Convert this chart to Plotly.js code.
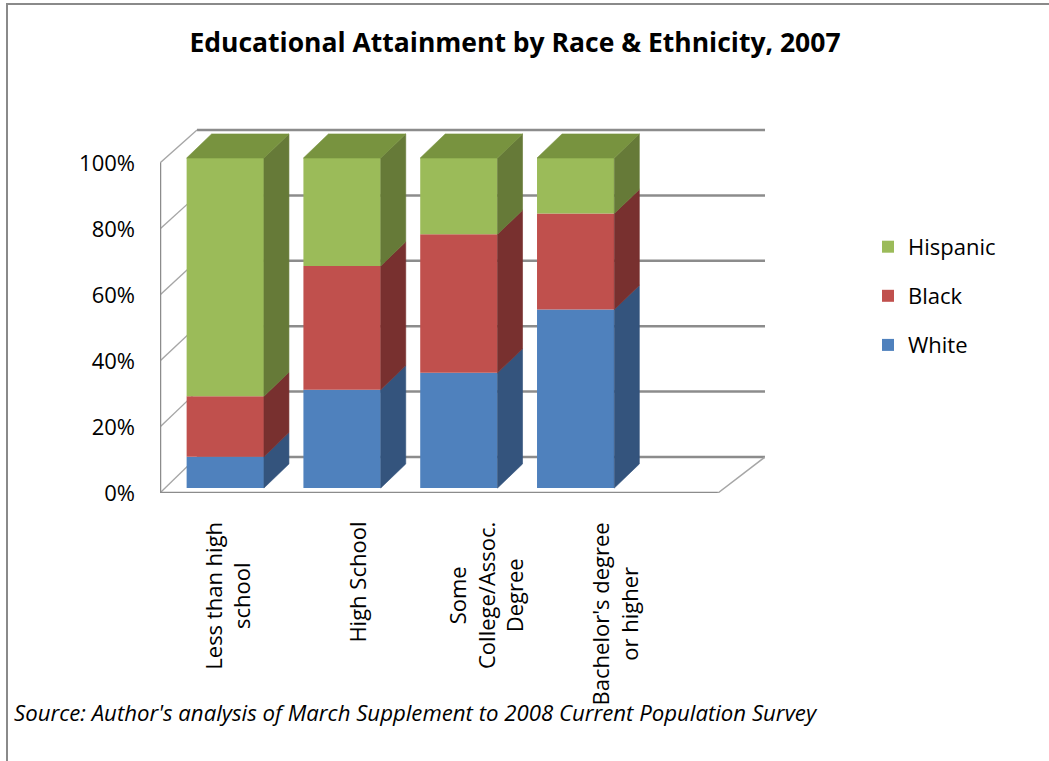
<!DOCTYPE html>
<html>
<head>
<meta charset="utf-8">
<script src="https://cdn.plot.ly/plotly-3.0.1.min.js"></script>
<style>
  html, body { margin: 0; padding: 0; background: #ffffff; }
  #wrap { position: relative; width: 1049px; height: 761px; overflow: hidden; }
  #chart { position: absolute; left: 0; top: 0; width: 1049px; height: 761px; }
  #frame { position: absolute; left: 6px; top: 3px; width: 1100px; height: 800px;
           border-left: 2px solid #8a8a8a; border-top: 2px solid #8a8a8a; pointer-events: none; }
</style>
</head>
<body>
<div id="wrap">
  <div id="chart"></div>
  <div id="frame"></div>
</div>
<script>
// ---- data ----
const categories = ["Less than high<br>school", "High School", "Some<br>College/Assoc.<br>Degree", "Bachelor's degree<br>or higher"];
const seriesNames = ["White", "Black", "Hispanic"];
const white    = [9.5, 29.8, 34.9, 54.1];
const black    = [18.3, 37.5, 42.0, 29.1];
const hispanic = [72.2, 32.7, 23.1, 16.8];
const yTickVals = [0, 20, 40, 60, 80, 100];
const yTickText = ["0%", "20%", "40%", "60%", "80%", "100%"];

// ---- styling / 3-D geometry (in axis units) ----
const frontColors = ["#4f81bd", "#c0504d", "#9bbb59"];
const sideColors  = ["#34547d", "#78302f", "#667a38"];
const topColor    = "#78933f";
const HW = 0.331;          // half width of bar front
const BASE = 1.5;          // bar front sits slightly behind floor front
const BDX = 0.214, BDY = 7.3;   // bar depth offset
const FRONT_LEFT = -0.559, FRONT_RIGHT = 4.218;
const BACK_LEFT = -0.242, BACK_RIGHT = 4.621;
const backY = v => 10.9 + 0.991 * v;
const labelX = i => 0.012 + 1.108 * i;

const series = [white, black, hispanic];
const idx = categories.map((c, i) => i);

const traces = [];
// front faces as bars
const cum = idx.map(() => BASE);
const bases = [];
series.forEach((vals, s) => {
  const b = cum.slice();
  bases.push(b);
  traces.push({
    type: "bar", x: idx, y: vals, base: b, width: 2 * HW,
    name: seriesNames[s], legendgroup: seriesNames[s], legendrank: 3 - s,
    marker: { color: frontColors[s], line: { width: 0 } },
    hoverinfo: "skip"
  });
  vals.forEach((v, i) => { cum[i] += v; });
});
// side faces
series.forEach((vals, s) => {
  const xs = [], ys = [];
  vals.forEach((v, i) => {
    const xr = idx[i] + HW, b = bases[s][i], t = b + v;
    xs.push(xr, xr, xr + BDX, xr + BDX, xr, null);
    ys.push(b, t, t + BDY, b + BDY, b, null);
  });
  traces.push({
    type: "scatter", mode: "lines", x: xs, y: ys, fill: "toself",
    fillcolor: sideColors[s], line: { color: sideColors[s], width: 0.6 },
    showlegend: false, hoverinfo: "skip"
  });
});
// top faces
{
  const xs = [], ys = [];
  idx.forEach((x, i) => {
    const t = cum[i];
    xs.push(x - HW, x + HW, x + HW + BDX, x - HW + BDX, x - HW, null);
    ys.push(t, t, t + BDY, t + BDY, t, null);
  });
  traces.push({
    type: "scatter", mode: "lines", x: xs, y: ys, fill: "toself",
    fillcolor: topColor, line: { color: topColor, width: 0.6 },
    showlegend: false, hoverinfo: "skip"
  });
}

// walls, gridlines, floor as shapes below the traces
const shapes = [];
yTickVals.forEach(v => {
  shapes.push({ type: "line", layer: "below", xref: "x", yref: "y",
    x0: BACK_LEFT, x1: BACK_RIGHT, y0: backY(v), y1: backY(v),
    line: { color: "#8c8c8c", width: 2.5 } });
  shapes.push({ type: "line", layer: "below", xref: "x", yref: "y",
    x0: FRONT_LEFT, x1: BACK_LEFT, y0: v, y1: backY(v),
    line: { color: "#a6a6a6", width: 1.3 } });
});
shapes.push({ type: "line", layer: "below", xref: "x", yref: "y",
  x0: FRONT_LEFT, x1: FRONT_LEFT, y0: 0, y1: 100, line: { color: "#8c8c8c", width: 2.5 } });
shapes.push({ type: "line", layer: "below", xref: "x", yref: "y",
  x0: FRONT_LEFT, x1: FRONT_RIGHT, y0: 0, y1: 0, line: { color: "#8c8c8c", width: 2.5 } });
shapes.push({ type: "line", layer: "below", xref: "x", yref: "y",
  x0: FRONT_RIGHT, x1: BACK_RIGHT, y0: 0, y1: backY(0), line: { color: "#a6a6a6", width: 1.5 } });

const font = "'Open Sans', 'Noto Sans', sans-serif";
const annotations = categories.map((c, i) => ({
  text: c, x: labelX(i), xref: "x", y: -0.074, yref: "paper",
  xanchor: "center", yanchor: "top", textangle: -90, align: "center",
  showarrow: false, font: { family: font, size: 22, color: "#000" }
}));
annotations.push({
  text: "<i>Source: Author's analysis of March Supplement to 2008 Current Population Survey</i>",
  x: -0.2446, xref: "paper", xanchor: "left", y: -0.6, yref: "paper", yanchor: "middle",
  showarrow: false, font: { family: font, size: 22.2, color: "#000" }
});

const layout = {
  width: 1049, height: 761, autosize: false,
  paper_bgcolor: "#ffffff", plot_bgcolor: "rgba(0,0,0,0)",
  margin: { l: 160, r: 284, t: 128, b: 268, pad: 0 },
  title: { text: "<b>Educational Attainment by Race & Ethnicity, 2007</b>",
    x: 515 / 1049, xref: "container", xanchor: "center",
    y: 1 - 43 / 761, yref: "container", yanchor: "middle",
    font: { family: font, size: 26.5, color: "#000" } },
  barmode: "overlay",
  xaxis: { range: [FRONT_LEFT, BACK_RIGHT], visible: false, fixedrange: true },
  yaxis: { range: [0, 110.6], tickvals: yTickVals, ticktext: yTickText,
    showgrid: false, zeroline: false, showline: false, ticks: "",
    ticklabelstandoff: 24, fixedrange: true,
    tickfont: { family: font, size: 22, color: "#000" } },
  showlegend: true,
  legend: { x: (868 - 160) / 605, xanchor: "left", y: 0.54, yanchor: "middle",
    font: { family: font, size: 22, color: "#000" }, tracegroupgap: 17.5,
    bgcolor: "rgba(0,0,0,0)", itemclick: false, itemdoubleclick: false },
  shapes: shapes,
  annotations: annotations,
  hovermode: false
};

Plotly.newPlot("chart", traces, layout, { displayModeBar: false, staticPlot: true });
</script>
</body>
</html>
